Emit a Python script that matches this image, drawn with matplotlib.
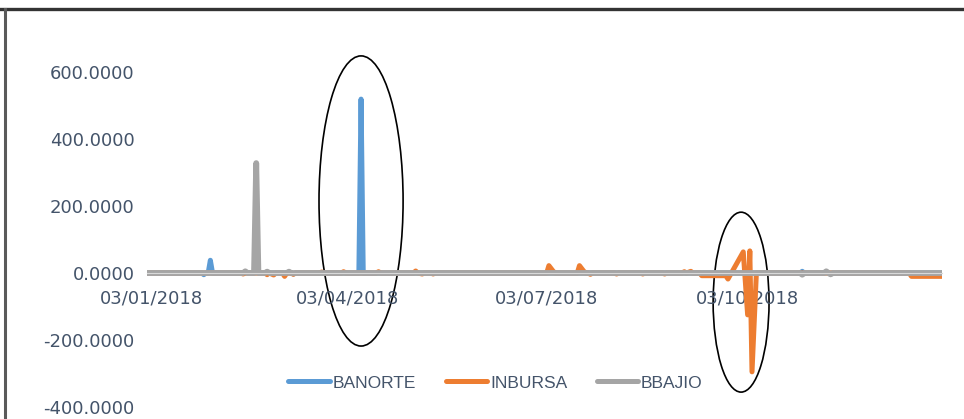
import numpy as np
import pandas as pd
import matplotlib
matplotlib.use("Agg")
import matplotlib.pyplot as plt
import matplotlib.dates as mdates
from matplotlib.patches import Ellipse
from matplotlib.lines import Line2D
from matplotlib.ticker import FuncFormatter

# series (points joined by straight lines, as in the original)
banorte_dates = ["2018-01-01", "2018-01-26", "2018-01-27", "2018-01-28", "2018-01-29", "2018-01-30",
                 "2018-01-31", "2018-03-08", "2018-03-09", "2018-03-10", "2018-04-08", "2018-04-09",
                 "2018-04-10", "2018-10-27", "2018-10-28", "2018-10-29", "2018-12-31"]
banorte_vals = [0, 0, -5, 0, 0, 38,
                0, 0, -3, 0, 0, 519,
                0, 0, 5, 0, 0]

inbursa_dates = ["2018-01-01", "2018-02-13", "2018-02-14", "2018-02-15", "2018-02-24", "2018-02-25",
                 "2018-02-26", "2018-02-28", "2018-03-01", "2018-03-04", "2018-03-05", "2018-03-06",
                 "2018-03-08", "2018-03-09", "2018-03-10", "2018-03-21", "2018-03-22", "2018-03-23",
                 "2018-03-31", "2018-04-01", "2018-04-02", "2018-04-16", "2018-04-17", "2018-04-18",
                 "2018-05-03", "2018-05-04", "2018-05-05", "2018-05-07", "2018-05-08", "2018-05-11",
                 "2018-05-12", "2018-05-13", "2018-07-03", "2018-07-04", "2018-07-06", "2018-07-07",
                 "2018-07-17", "2018-07-18", "2018-07-20", "2018-07-21", "2018-07-22", "2018-07-23",
                 "2018-07-24", "2018-08-03", "2018-08-04", "2018-08-05", "2018-08-15", "2018-08-16",
                 "2018-08-17", "2018-08-25", "2018-08-26", "2018-08-27", "2018-09-03", "2018-09-04",
                 "2018-09-05", "2018-09-07", "2018-09-08", "2018-09-11", "2018-09-12", "2018-09-23",
                 "2018-09-24", "2018-10-01", "2018-10-03", "2018-10-04", "2018-10-05", "2018-10-07",
                 "2018-12-16", "2018-12-17", "2018-12-31"]
inbursa_vals = [0, 0, -3, 0, 0, -5,
                0, -6, 0, 0, -10, 0,
                0, -4, 0, 0, 3, 0,
                0, 4, 0, 0, 4, 0,
                0, 6, 0, -3, 0, 0,
                -3, 0, 0, 22, 5, 0,
                0, 22, 5, 0, 0, -4,
                0, 0, -3, 0, 0, -3,
                0, 0, -3, 0, 0, 4,
                0, 5, 0, 0, -8, -8,
                -18, 63, -125, 66, -295, 0,
                0, -10, -10]

bbajio_dates = ["2018-01-01", "2018-02-14", "2018-02-15", "2018-02-16", "2018-02-19", "2018-02-20",
                "2018-02-21", "2018-02-24", "2018-02-25", "2018-02-26", "2018-03-06", "2018-03-07",
                "2018-03-08", "2018-10-27", "2018-10-28", "2018-10-29", "2018-11-07", "2018-11-08",
                "2018-11-09", "2018-11-10", "2018-11-11", "2018-12-31"]
bbajio_vals = [0, 0, 5, 0, 0, 328,
               0, 0, 4, 0, 0, 4,
               0, 0, -5, 0, 0, 5,
               0, -4, 0, 0]

tick_dates = ["2018-01-03", "2018-04-03", "2018-07-03", "2018-10-03"]
y_ticks = [-400, -200, 0, 200, 400, 600]

text_col = "#44546A"

fig = plt.figure(figsize=(9.64, 4.19), dpi=100)
ax = fig.add_axes([0.1525, 0.0286, 0.8247, 0.7996])

series = [("BANORTE", banorte_dates, banorte_vals, "#5B9BD5", 3.6),
          ("INBURSA", inbursa_dates, inbursa_vals, "#ED7D31", 3.6),
          ("BBAJIO", bbajio_dates, bbajio_vals, "#A5A5A5", 4.2)]
for name, d, v, c, w in series:
    ax.plot(pd.to_datetime(d), v, color=c, lw=w, label=name,
            solid_capstyle="round", solid_joinstyle="round")

ax.set_xlim(pd.Timestamp("2018-01-01"), pd.Timestamp("2018-12-31"))
ax.set_ylim(-400, 600)
ax.set_yticks(y_ticks)
ax.set_xticks(pd.to_datetime(tick_dates))
ax.xaxis.set_major_formatter(mdates.DateFormatter("%d/%m/%Y"))
ax.yaxis.set_major_formatter(FuncFormatter(lambda v, p: "{:.4f}".format(v)))

for s in ["top", "right", "left"]:
    ax.spines[s].set_visible(False)
ax.spines["bottom"].set_position(("data", 0))
ax.spines["bottom"].set_color("#D9D9D9")
ax.tick_params(axis="x", length=0, pad=12, labelsize=13, labelcolor=text_col)
ax.tick_params(axis="y", length=0, pad=9, labelsize=13, labelcolor=text_col)
for lab in ax.get_xticklabels() + ax.get_yticklabels():
    lab.set_family("DejaVu Sans")

# hand-drawn ellipses around the outliers
e1 = Ellipse((mdates.date2num(pd.Timestamp("2018-04-09")), 215), 38.5, 866,
             fill=False, ec="black", lw=1.2, clip_on=False)
e2 = Ellipse((mdates.date2num(pd.Timestamp("2018-09-30")), -87), 25.6, 537,
             fill=False, ec="black", lw=1.2, clip_on=False)
ax.add_patch(e1)
ax.add_patch(e2)

leg = fig.legend(loc="center", bbox_to_anchor=(0.514, 0.086), ncol=3, frameon=False,
                 handlelength=2.4, handletextpad=0.15, columnspacing=1.7,
                 prop={"family": "Liberation Sans", "size": 12.5})
for t in leg.get_texts():
    t.set_color(text_col)
for h in leg.legend_handles:
    h.set_linewidth(3.6)

# frame lines of the original screenshot
fig.add_artist(Line2D([0, 1], [0.978, 0.978], transform=fig.transFigure, color="#333333", lw=2.4))
fig.add_artist(Line2D([0.0055, 0.0055], [0, 0.978], transform=fig.transFigure, color="#5A5A5A", lw=2.2))

fig.savefig("out.png", dpi=100)
